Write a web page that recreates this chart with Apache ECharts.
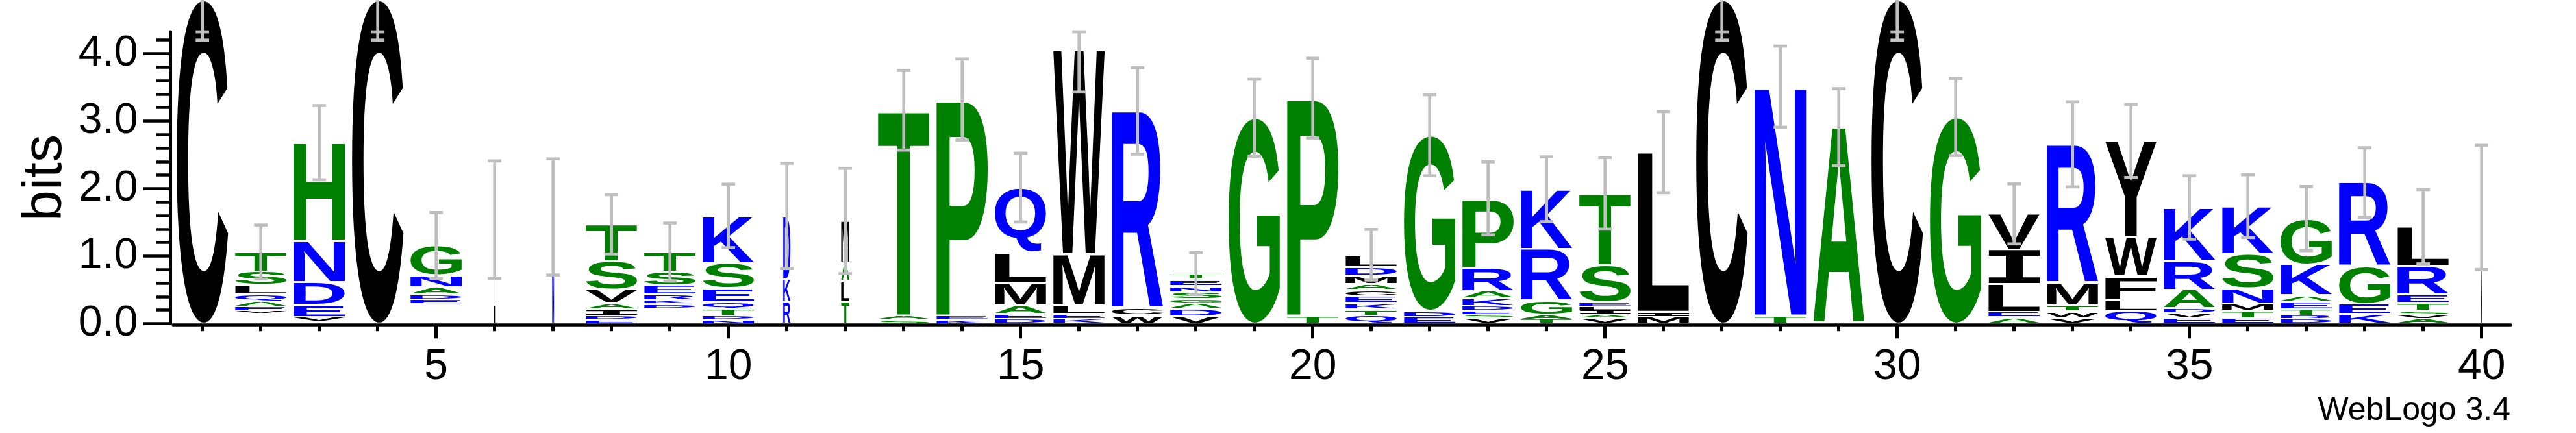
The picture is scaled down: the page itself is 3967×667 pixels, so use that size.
<!DOCTYPE html>
<html>
<head>
<meta charset="utf-8">
<script src="https://cdn.jsdelivr.net/npm/echarts@6/dist/echarts.min.js"></script>
<style>
html,body{margin:0;padding:0;background:#ffffff;}
#chart{width:3967px;height:667px;}
</style>
</head>
<body>
<div id="chart"></div>
<script>
// ---------------- data ----------------
const positions = [1,2,3,4,5,6,7,8,9,10,11,12,13,14,15,16,17,18,19,20,21,22,23,24,25,26,27,28,29,30,31,32,33,34,35,36,37,38,39,40];

// letter stacks, bottom -> top, [symbol, bits]; "" = many unresolvably small symbols
const stacks = [
  [["C",4.8]],
  [["",0.15],["V",0.04],["E",0.065],["A",0.08],["Q",0.1],["L",0.135],["S",0.2],["T",0.29]],
  [["",0.03],["V",0.07],["E",0.18],["D",0.34],["N",0.61],["H",1.45]],
  [["C",4.8]],
  [["",0.29],["E",0.07],["D",0.075],["A",0.1],["N",0.18],["G",0.44]],
  [["L",1.54]],
  [["N",1.58]],
  [["E",0.06],["D",0.06],["I",0.095],["A",0.09],["V",0.2],["S",0.42],["T",0.545]],
  [["",0.23],["D",0.06],["K",0.06],["R",0.08],["E",0.135],["S",0.205],["T",0.29]],
  [["N",0.06],["D",0.06],["T",0.1],["Q",0.1],["E",0.205],["S",0.37],["K",0.7]],
  [["R",0.33],["K",0.335],["D",0.93]],
  [["T",0.32],["L",0.31],["A",0.27],["M",0.62]],
  [["S",0.06],["A",0.06],["T",3.04]],
  [["K",0.06],["E",0.06],["P",3.2]],
  [["D",0.07],["E",0.07],["A",0.13],["M",0.34],["L",0.45],["Q",0.955]],
  [["K",0.07],["E",0.07],["L",0.13],["M",0.76],["W",3.03]],
  [["W",0.12],["C",0.1],["R",2.93]],
  [["V",0.11],["D",0.115],["A",0.08],["G",0.06],["S",0.1],["N",0.09],["E",0.095],["T",0.09]],
  [["G",3.05]],
  [["T",0.12],["P",3.22]],
  [["Q",0.12],["T",0.095],["K",0.09],["E",0.1],["C",0.095],["A",0.09],["M",0.12],["D",0.13],["L",0.18]],
  [["E",0.1],["D",0.09],["G",2.6]],
  [["V",0.08],["S",0.055],["E",0.06],["D",0.065],["K",0.11],["A",0.11],["R",0.35],["P",1.025]],
  [["T",0.065],["A",0.07],["G",0.205],["R",0.77],["K",0.88]],
  [["V",0.08],["A",0.06],["I",0.06],["L",0.06],["E",0.06],["S",0.55],["T",1.06]],
  [["M",0.1],["I",0.075],["L",2.365]],
  [["C",4.8]],
  [["T",0.12],["N",3.39]],
  [["A",2.91]],
  [["C",4.8]],
  [["G",3.06]],
  [["A",0.095],["E",0.08],["L",0.41],["I",0.51],["V",0.53]],
  [["V",0.09],["W",0.09],["T",0.09],["M",0.33],["R",2.055]],
  [["Q",0.185],["L",0.165],["F",0.35],["W",0.585],["Y",1.42]],
  [["E",0.08],["V",0.08],["D",0.07],["A",0.27],["R",0.43],["K",0.79]],
  [["E",0.08],["T",0.11],["M",0.105],["N",0.23],["S",0.505],["K",0.71]],
  [["D",0.07],["R",0.045],["T",0.1],["E",0.11],["A",0.095],["K",0.46],["G",0.675]],
  [["K",0.145],["E",0.145],["G",0.56],["R",1.24]],
  [["A",0.07],["V",0.06],["S",0.06],["T",0.115],["E",0.125],["R",0.425],["L",0.58]],
  [["V",1.72]]
];

// fraction of non-gap symbols (stack width)
const stackWidths = [1,1,1,1,1,0.04,0.04,1,1,1,0.14,0.16,1,1,1,1,1,1,1,1,1,1,1,1,1,1,1,1,1,1,1,1,1,1,1,1,1,1,1,0.04];

// error bar half-lengths (bits)
const errors = [0.6,0.4,0.55,0.6,0.49,0.87,0.86,0.44,0.43,0.47,0.78,0.78,0.59,0.6,0.51,0.63,0.64,0.31,0.57,0.59,0.375,0.6,0.54,0.48,0.53,0.6,0.6,0.6,0.57,0.6,0.57,0.445,0.63,0.54,0.47,0.465,0.475,0.515,0.55,0.92];

const yMajorTicks = [0,1,2,3,4];
const yMinorTicks = [0,0.2,0.4,0.6,0.8,1,1.2,1.4,1.6,1.8,2,2.2,2.4,2.6,2.8,3,3.2,3.4,3.6,3.8,4,4.2];
const xLabelTicks = [5,10,15,20,25,30,35,40];
const YMAX = Math.log2(20);

// ---------------- styling helpers ----------------
const COLORS = {};
'RKDENQ'.split('').forEach(c => COLORS[c] = '#0000ff');
'SGHTAP'.split('').forEach(c => COLORS[c] = '#008000');
'YVMCLFIWX'.split('').forEach(c => COLORS[c] = '#000000');

const BASE_FONT = 'bold 200px "Liberation Sans", Arial, sans-serif';
const I_FONT = 'bold 200px "DejaVu Sans Mono", monospace';
const mctx = document.createElement('canvas').getContext('2d');
const metricCache = {};
function glyphMetrics(ch) {
  if (metricCache[ch]) return metricCache[ch];
  const font = ch === 'I' ? I_FONT : BASE_FONT;
  mctx.font = font;
  mctx.textBaseline = 'middle';
  mctx.textAlign = 'left';
  const m = mctx.measureText(ch);
  const r = {font: font, a: m.actualBoundingBoxAscent, d: m.actualBoundingBoxDescent,
             l: m.actualBoundingBoxLeft, r: m.actualBoundingBoxRight};
  metricCache[ch] = r;
  return r;
}

function renderItem(params, api) {
  const i = params.dataIndex;
  const p = api.value(0);
  const base = api.coord([p, 0]);
  const band = api.size([1, 0])[0];
  const ppb = api.size([0, 1])[1];
  const w = band * 0.88 * stackWidths[i];
  const x0 = base[0] - w / 2;
  const children = [];
  let cum = 0;
  stacks[i].forEach(([ch, h]) => {
    const yb = base[1] - cum * ppb;
    cum += h;
    const yt = base[1] - cum * ppb;
    if (!ch) return;
    const slot = yb - yt;
    const g = Math.min(3, slot * 0.3);
    const top = yt + g / 2, bot = yb - g / 2;
    const m = glyphMetrics(ch);
    const sx = w / (m.l + m.r);
    const sy = (bot - top) / (m.a + m.d);
    children.push({
      type: 'text', silent: true,
      x: x0 + sx * m.l, y: top + sy * m.a, scaleX: sx, scaleY: sy,
      style: {text: ch, font: m.font, fill: COLORS[ch] || '#000',
              align: 'left', verticalAlign: 'middle', textAlign: 'left', textVerticalAlign: 'middle'}
    });
  });
  // error bar
  const e = errors[i];
  const lo = cum - e;
  const hi = Math.min(cum + e, YMAX);
  const lineTop = Math.max(hi, cum);
  const cx = base[0];
  const yLo = api.coord([p, lo])[1];
  const yHi = api.coord([p, hi])[1];
  const yTop = api.coord([p, lineTop])[1];
  const barStyle = {stroke: '#bfbfbf', lineWidth: 4.7, fill: null};
  children.push({type: 'line', silent: true, shape: {x1: cx, y1: yLo, x2: cx, y2: yTop}, style: barStyle});
  children.push({type: 'line', silent: true, shape: {x1: cx - 10.4, y1: yLo, x2: cx + 10.4, y2: yLo}, style: barStyle});
  children.push({type: 'line', silent: true, shape: {x1: cx - 10.4, y1: yHi, x2: cx + 10.4, y2: yHi}, style: barStyle});
  return {type: 'group', children: children};
}

const labelFont = {fontFamily: '"Liberation Sans", Arial, sans-serif', fontSize: 66, color: '#000'};

const chart = echarts.init(document.getElementById('chart'), null, {renderer: 'canvas'});
chart.setOption({
  animation: false,
  backgroundColor: '#ffffff',
  grid: {left: 266.7, right: 100.3, top: 49, bottom: 168.5, containLabel: false, outerBoundsMode: 'none'},
  xAxis: [
    {type: 'value', min: 0.5, max: 40.5, position: 'bottom', offset: 1.8,
     axisLine: {show: true, onZero: false, lineStyle: {color: '#000', width: 4.7}},
     axisTick: {show: true, length: 10, lineStyle: {color: '#000', width: 5}, customValues: positions},
     axisLabel: {show: false}, splitLine: {show: false}},
    {type: 'value', min: 0.5, max: 40.5, position: 'bottom', offset: 1.8,
     axisLine: {show: false, onZero: false},
     axisTick: {show: true, length: 21, lineStyle: {color: '#000', width: 5}, customValues: xLabelTicks},
     axisLabel: Object.assign({show: true, margin: 32, customValues: xLabelTicks, formatter: v => String(v)}, labelFont),
     splitLine: {show: false}}
  ],
  yAxis: [
    {type: 'value', min: 0, max: YMAX, position: 'left', offset: 4.2,
     axisLine: {show: true, onZero: false, lineStyle: {color: '#000', width: 5}},
     axisTick: {show: true, length: 21.5, lineStyle: {color: '#000', width: 4.5}, customValues: yMinorTicks},
     axisLabel: {show: false}, splitLine: {show: false}},
    {type: 'value', min: 0, max: YMAX, position: 'left', offset: 4.2,
     axisLine: {show: false, onZero: false},
     axisTick: {show: true, length: 42.5, lineStyle: {color: '#000', width: 4.5}, customValues: yMajorTicks},
     axisLabel: Object.assign({show: true, margin: 50, customValues: yMajorTicks, formatter: v => v.toFixed(1)}, labelFont),
     splitLine: {show: false}}
  ],
  graphic: [
    {type: 'text', x: 70, y: 274, rotation: Math.PI / 2, silent: true,
     style: {text: 'bits', font: '86px "Liberation Sans", Arial, sans-serif', fill: '#000',
             align: 'center', verticalAlign: 'middle'}},
    {type: 'text', x: 3866, y: 633, silent: true,
     style: {text: 'WebLogo 3.4', font: '50px "Liberation Sans", Arial, sans-serif', fill: '#000',
             align: 'right', verticalAlign: 'middle'}}
  ],
  series: [{
    type: 'custom', xAxisIndex: 0, yAxisIndex: 0, clip: false,
    renderItem: renderItem,
    data: positions.map((p, i) => [p, stacks[i].reduce((s, x) => s + x[1], 0)])
  }]
});
</script>
</body>
</html>
